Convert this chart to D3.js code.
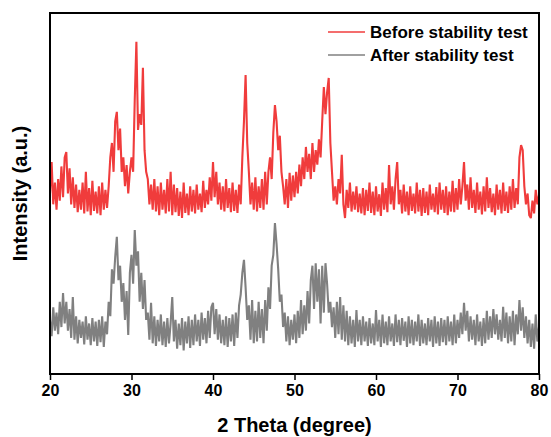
<!DOCTYPE html>
<html>
<head>
<meta charset="utf-8">
<script src="https://cdn.jsdelivr.net/npm/d3@7"></script>
<style>
  body { margin: 0; background: #fff; }
  text { font-family: "Liberation Sans", Arial, sans-serif; font-weight: bold; }
</style>
</head>
<body>
<div id="chart"></div>
<script>
// 2 theta from 20 to 80, step 0.2
var thetaStart = 20, thetaStep = 0.2;

// Before stability test (red)
var before = [
  500, 587, 470, 530, 455, 540, 480, 575, 490, 600,
  615, 500, 570, 470, 545, 460, 525, 448, 510, 455,
  530, 445, 560, 450, 515, 440, 535, 452, 505, 445,
  520, 440, 530, 455, 510, 460, 520, 600, 640, 560,
  700, 726, 620, 680, 560, 600, 520, 579, 500, 560,
  600, 560, 760, 920, 676, 720, 690, 848, 620, 560,
  540, 470, 525, 455, 540, 450, 520, 440, 530, 455,
  510, 445, 540, 450, 560, 440, 525, 448, 515, 438,
  505, 432, 530, 446, 500, 440, 520, 450, 510, 445,
  525, 455, 500, 448, 535, 460, 510, 470, 545, 480,
  587, 490, 560, 470, 530, 455, 520, 450, 540, 460,
  515, 448, 530, 452, 510, 446, 525, 470, 600, 700,
  828, 640, 560, 470, 530, 455, 545, 450, 520, 460,
  540, 455, 560, 470, 560, 600, 540, 668, 745, 700,
  620, 660, 560, 520, 470, 540, 460, 557, 480, 550,
  490, 560, 500, 580, 520, 600, 540, 629, 560, 610,
  540, 640, 560, 620, 580, 650, 600, 700, 795, 720,
  780, 820, 640, 560, 480, 520, 470, 540, 500, 607,
  470, 432, 510, 460, 530, 450, 505, 455, 520, 448,
  500, 445, 515, 440, 510, 452, 530, 446, 505, 440,
  520, 450, 498, 438, 530, 455, 515, 448, 579, 470,
  520, 455, 540, 587, 470, 510, 445, 525, 450, 505,
  440, 520, 452, 500, 445, 530, 450, 510, 438, 515,
  446, 505, 440, 525, 455, 500, 448, 518, 442, 530,
  455, 510, 446, 520, 440, 505, 450, 535, 448, 515,
  455, 540, 470, 520, 587, 480, 525, 455, 545, 460,
  510, 446, 530, 455, 505, 442, 520, 450, 545, 460,
  515, 448, 500, 440, 525, 455, 510, 445, 530, 452,
  505, 446, 520, 455, 540, 460, 515, 470, 600, 634,
  620, 520, 470, 500, 440, 432, 480, 445, 510, 470,
  495
];

// After stability test (gray)
var after = [
  150, 105, 185, 120, 170, 110, 200, 130, 224, 140,
  200, 120, 180, 100, 213, 95, 160, 85, 150, 100,
  145, 82, 160, 95, 140, 80, 155, 90, 145, 78,
  150, 88, 160, 75, 145, 110, 200, 160, 290, 250,
  324, 380, 260, 300, 200, 252, 150, 230, 108, 280,
  330, 250, 399, 300, 340, 200, 280, 180, 260, 150,
  170, 95, 197, 85, 160, 78, 150, 90, 165, 80,
  145, 75, 155, 85, 140, 213, 90, 150, 70, 140,
  80, 155, 65, 145, 85, 160, 72, 150, 80, 165,
  90, 150, 78, 170, 95, 155, 85, 175, 100, 185,
  197, 110, 180, 95, 165, 85, 150, 80, 160, 75,
  155, 90, 165, 78, 170, 100, 190, 220, 280, 316,
  240, 150, 190, 95, 205, 85, 175, 90, 200, 100,
  180, 85, 205, 120, 240, 180, 300, 330, 418, 360,
  290, 200, 220, 130, 170, 90, 160, 80, 150, 95,
  165, 85, 175, 100, 205, 110, 190, 120, 230, 140,
  260, 300, 180, 307, 200, 290, 140, 300, 170, 307,
  250, 170, 200, 130, 185, 100, 200, 110, 213, 95,
  190, 90, 175, 80, 160, 85, 150, 75, 177, 90,
  150, 80, 160, 90, 145, 78, 155, 85, 140, 80,
  177, 90, 150, 75, 165, 85, 145, 80, 160, 90,
  140, 78, 165, 88, 150, 80, 155, 92, 145, 75,
  160, 85, 150, 80, 145, 90, 165, 78, 150, 85,
  140, 80, 155, 90, 150, 75, 160, 85, 145, 78,
  155, 88, 150, 80, 160, 90, 145, 80, 165, 85,
  150, 100, 170, 110, 197, 120, 175, 90, 160, 95,
  150, 80, 165, 90, 145, 78, 155, 85, 175, 95,
  160, 100, 180, 110, 165, 95, 150, 90, 186, 100,
  170, 85, 160, 90, 175, 80, 165, 110, 205, 120,
  185, 100, 160, 85, 150, 75, 140, 70, 165, 90,
  130
];

var xTicks = [20, 30, 40, 50, 60, 70, 80];
var seriesNames = ["Before stability test", "After stability test"];
var seriesColors = ["#f03c3c", "#808080"];

var W = 551, H = 437;
var margin = {top: 13, right: 12, bottom: 63, left: 50},
    width = W - margin.left - margin.right,
    height = H - margin.top - margin.bottom;

var svg = d3.select("#chart").append("svg")
    .attr("width", W).attr("height", H);

var g = svg.append("g")
    .attr("transform", "translate(" + margin.left + "," + margin.top + ")");

var x = d3.scaleLinear().domain([20, 80]).range([0, width]);
var y = d3.scaleLinear().domain([0, 1000]).range([height, 0]);

g.append("clipPath").attr("id", "clip")
  .append("rect").attr("width", width).attr("height", height);

var line = d3.line()
    .x(function (d, i) { return x(thetaStart + i * thetaStep); })
    .y(function (d) { return y(d); });

// gray first, red on top
[after, before].forEach(function (s, k) {
  g.append("path")
    .datum(s)
    .attr("clip-path", "url(#clip)")
    .attr("fill", "none")
    .attr("stroke", k === 0 ? seriesColors[1] : seriesColors[0])
    .attr("stroke-width", 2.1)
    .attr("stroke-linejoin", "miter")
    .attr("stroke-miterlimit", 3)
    .attr("d", line);
});

// x axis
var xAxis = g.append("g")
    .attr("transform", "translate(0," + height + ")")
    .call(d3.axisBottom(x).tickValues(xTicks).tickSize(6).tickPadding(5).tickFormat(d3.format("d")));
xAxis.select(".domain").remove();
xAxis.selectAll("line").attr("stroke", "#000").attr("stroke-width", 1.5);
xAxis.selectAll("text").attr("font-size", 16).attr("fill", "#000")
    .style("font-family", "Liberation Sans, Arial, sans-serif").style("font-weight", "bold");

// frame
g.append("rect")
  .attr("width", width).attr("height", height)
  .attr("fill", "none").attr("stroke", "#000").attr("stroke-width", 2);

// axis titles
svg.append("text")
  .attr("x", margin.left + width / 2).attr("y", 432)
  .attr("text-anchor", "middle").attr("font-size", 20)
  .text("2 Theta (degree)");

svg.append("text")
  .attr("transform", "translate(27," + (margin.top + height / 2) + ") rotate(-90)")
  .attr("text-anchor", "middle").attr("font-size", 20)
  .text("Intensity (a.u.)");

// legend
var legend = svg.append("g");
seriesNames.forEach(function (name, i) {
  var ly = 32 + i * 23;
  legend.append("line")
    .attr("x1", 328).attr("x2", 365).attr("y1", ly).attr("y2", ly)
    .attr("stroke", seriesColors[i]).attr("stroke-width", 1.5);
  legend.append("text")
    .attr("x", 370).attr("y", ly).attr("dy", "0.36em")
    .attr("font-size", 17)
    .text(name);
});
</script>
</body>
</html>
